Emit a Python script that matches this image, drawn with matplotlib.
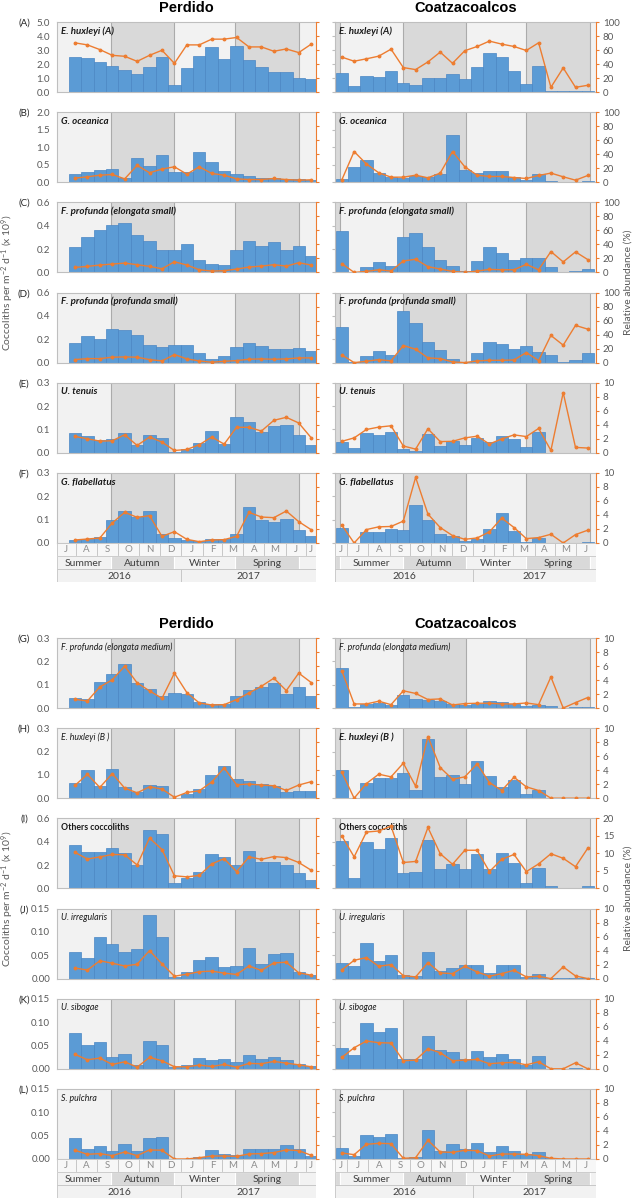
import datetime as dt
import matplotlib
matplotlib.use("Agg")
import matplotlib.pyplot as plt
import matplotlib.dates as mdates
from matplotlib.patches import Rectangle

plt.rcParams['font.family'] = ['Lato', 'DejaVu Sans']
plt.rcParams['mathtext.default'] = 'regular'

# sediment trap cups, one every 18 days
perdido_first_cup = dt.datetime(2016, 7, 22)
coatza_first_cup = dt.datetime(2016, 6, 14)
cup_days = 18

perdido_xlim = (dt.datetime(2016, 7, 5), dt.datetime(2017, 7, 15))
coatza_xlim = (dt.datetime(2016, 6, 13), dt.datetime(2017, 6, 30))

season_edges = [dt.datetime(2016, 3, 20), dt.datetime(2016, 6, 21), dt.datetime(2016, 9, 21),
                dt.datetime(2016, 12, 21), dt.datetime(2017, 3, 20), dt.datetime(2017, 6, 21),
                dt.datetime(2017, 9, 22)]
season_names = ['Spring', 'Summer', 'Autumn', 'Winter', 'Spring', 'Summer']
season_dark = [True, False, True, False, True, False]
years = [2016, 2017]

# ---- fluxes (x10^9 coccoliths m-2 d-1) and relative abundance (%)
ehux_a_perdido_flux = [2.52, 2.45, 2.16, 1.88, 1.59, 1.30, 1.80, 2.50, 0.53, 1.73, 2.55, 3.20, 2.38, 3.29, 2.31, 1.78, 1.44, 1.44, 1.00, 0.96]
ehux_a_perdido_rel = [70.2, 67.3, 60.6, 52.4, 51.0, 43.8, 52.4, 59.6, 40.9, 67.3, 67.3, 75.5, 75.5, 77.9, 64.4, 64.4, 58.2, 61.5, 56.3, 68.3]
ehux_a_coatza_flux = [1.35, 0.45, 1.17, 1.05, 1.48, 0.65, 0.53, 1.03, 1.03, 1.31, 0.95, 1.77, 2.77, 2.53, 1.48, 0.60, 1.86, 0.04, 0.04, 0.04, 0.04]
ehux_a_coatza_rel = [49.8, 44.0, 47.4, 51.2, 61.2, 34.9, 32.0, 43.0, 57.0, 41.0, 59.0, 65.0, 72.7, 68.4, 65.0, 59.3, 70.3, 6.7, 34.4, 6.7, 9.6]

goce_perdido_flux = [0.22, 0.28, 0.34, 0.38, 0.12, 0.69, 0.46, 0.79, 0.29, 0.30, 0.85, 0.57, 0.33, 0.22, 0.17, 0.12, 0.13, 0.10, 0.08, 0.06]
goce_perdido_rel = [5.8, 7.7, 10.0, 11.0, 4.8, 24.0, 13.5, 18.8, 22.0, 11.5, 22.0, 12.5, 10.0, 4.8, 3.8, 3.8, 5.3, 3.8, 2.9, 3.4]
goce_coatza_flux = [0.096, 0.42, 0.62, 0.27, 0.154, 0.116, 0.174, 0.154, 0.22, 1.34, 0.346, 0.25, 0.31, 0.31, 0.154, 0.058, 0.24, 0.02, 0.01, 0.01, 0.02]
goce_coatza_rel = [3.4, 43.8, 26.0, 13.5, 7.2, 7.2, 10.0, 6.3, 13.0, 43.8, 22.0, 10.0, 8.2, 8.2, 6.7, 5.3, 9.6, 13.0, 7.7, 2.9, 9.6]

fpes_perdido_flux = [0.22, 0.30, 0.36, 0.41, 0.42, 0.32, 0.27, 0.19, 0.19, 0.24, 0.11, 0.07, 0.06, 0.19, 0.27, 0.23, 0.26, 0.19, 0.23, 0.14]
fpes_perdido_rel = [7.1, 8.6, 10.5, 11.9, 13.3, 11.0, 8.6, 5.2, 15.2, 10.5, 3.8, 1.9, 2.4, 4.8, 7.6, 9.0, 11.0, 9.0, 13.8, 10.5]
fpes_coatza_flux = [0.354, 0.003, 0.043, 0.090, 0.052, 0.300, 0.340, 0.216, 0.104, 0.054, 0.012, 0.096, 0.214, 0.168, 0.107, 0.126, 0.124, 0.046, 0.003, 0.012, 0.029]
fpes_coatza_rel = [12.5, 0.0, 1.4, 3.8, 1.9, 16.3, 18.8, 8.2, 4.8, 1.4, 0.0, 1.9, 4.3, 3.8, 3.8, 11.5, 3.8, 29.8, 15.0, 29.3, 18.3]

fpps_perdido_flux = [0.164, 0.23, 0.204, 0.287, 0.276, 0.236, 0.155, 0.13, 0.152, 0.147, 0.08, 0.029, 0.057, 0.13, 0.17, 0.144, 0.12, 0.12, 0.126, 0.098]
fpps_perdido_rel = [4.3, 5.7, 5.7, 7.7, 8.1, 7.7, 4.3, 2.4, 11.5, 5.3, 2.4, 0.5, 1.9, 2.9, 4.8, 5.3, 4.8, 5.3, 6.7, 6.7]
fpps_coatza_flux = [0.306, 0.006, 0.054, 0.100, 0.063, 0.444, 0.339, 0.178, 0.109, 0.034, 0.006, 0.080, 0.178, 0.161, 0.118, 0.144, 0.092, 0.066, 0.006, 0.026, 0.086]
fpps_coatza_rel = [11.0, 0.0, 1.9, 4.3, 2.4, 24.4, 19.1, 6.7, 5.7, 1.0, 0.0, 2.4, 3.3, 3.3, 3.8, 14.4, 2.9, 38.8, 24.9, 53.1, 47.8]

uten_perdido_flux = [0.085, 0.073, 0.057, 0.060, 0.083, 0.032, 0.078, 0.065, 0.003, 0.016, 0.043, 0.093, 0.039, 0.152, 0.130, 0.089, 0.113, 0.118, 0.077, 0.032]
uten_perdido_rel = [2.34, 2.0, 1.67, 1.72, 2.58, 1.05, 2.25, 1.53, 0.33, 0.48, 1.15, 2.25, 1.24, 3.64, 3.64, 3.11, 4.64, 5.07, 4.26, 2.15]
uten_coatza_flux = [0.045, 0.020, 0.083, 0.075, 0.091, 0.016, 0.009, 0.080, 0.029, 0.049, 0.033, 0.065, 0.048, 0.073, 0.058, 0.023, 0.091, 0.001, 0.001, 0.001, 0.001]
uten_coatza_rel = [1.64, 2.13, 3.33, 3.67, 3.86, 0.97, 0.53, 3.43, 1.60, 1.64, 2.13, 2.37, 1.26, 1.98, 2.56, 2.32, 3.48, 0.34, 8.6, 0.77, 0.68]

gfla_perdido_flux = [0.014, 0.019, 0.024, 0.100, 0.139, 0.111, 0.137, 0.039, 0.021, 0.013, 0.007, 0.017, 0.017, 0.039, 0.154, 0.100, 0.089, 0.104, 0.056, 0.030]
gfla_perdido_rel = [0.43, 0.57, 0.71, 2.86, 4.38, 3.67, 3.90, 0.95, 1.62, 0.52, 0.19, 0.43, 0.48, 0.95, 4.38, 3.71, 3.62, 4.57, 3.05, 1.90]
gfla_coatza_flux = [0.066, 0.0015, 0.048, 0.048, 0.058, 0.055, 0.163, 0.098, 0.038, 0.029, 0.009, 0.017, 0.058, 0.130, 0.052, 0.004, 0.020, 0.0015, 0.0, 0.0015, 0.003]
gfla_coatza_rel = [2.55, 0.0, 1.92, 2.31, 2.36, 3.13, 9.38, 4.13, 2.21, 1.06, 0.53, 0.72, 1.59, 3.56, 2.21, 0.63, 0.77, 1.25, 0.0, 1.20, 1.83]

fpem_perdido_flux = [0.044, 0.037, 0.112, 0.145, 0.188, 0.106, 0.083, 0.053, 0.066, 0.059, 0.026, 0.016, 0.017, 0.053, 0.079, 0.090, 0.106, 0.059, 0.089, 0.053]
fpem_perdido_rel = [1.24, 1.00, 3.01, 4.02, 5.98, 3.59, 2.44, 1.39, 4.98, 2.20, 0.72, 0.43, 0.48, 1.20, 2.15, 3.11, 4.26, 2.49, 4.98, 3.64]
fpem_coatza_flux = [0.1725, 0.0057, 0.0174, 0.023, 0.0144, 0.0537, 0.0405, 0.0348, 0.029, 0.016, 0.0117, 0.019, 0.032, 0.0246, 0.019, 0.0087, 0.013, 0.0087, 0.0, 0.003, 0.003]
fpem_coatza_rel = [5.31, 0.58, 0.58, 0.97, 0.48, 2.46, 2.08, 1.21, 1.30, 0.43, 0.63, 0.68, 0.68, 0.58, 0.58, 0.72, 0.48, 4.44, 0.0, 0.77, 1.50]

ehux_b_perdido_flux = [0.066, 0.123, 0.053, 0.124, 0.046, 0.026, 0.056, 0.052, 0.003, 0.020, 0.040, 0.101, 0.136, 0.082, 0.075, 0.061, 0.053, 0.027, 0.033, 0.032]
ehux_b_perdido_rel = [1.83, 3.41, 1.54, 3.51, 1.44, 0.77, 1.63, 1.30, 0.14, 0.82, 1.06, 2.31, 4.33, 1.92, 2.02, 1.88, 1.78, 1.11, 1.88, 2.36]
ehux_b_coatza_flux = [0.123, 0.003, 0.066, 0.086, 0.0885, 0.107, 0.037, 0.253, 0.0915, 0.099, 0.060, 0.160, 0.096, 0.050, 0.080, 0.020, 0.034, 0.0, 0.0, 0.0, 0.0]
ehux_b_coatza_rel = [3.71, 0.0, 2.10, 3.43, 3.05, 5.00, 1.71, 8.81, 4.38, 2.71, 3.05, 4.90, 2.24, 1.10, 3.00, 1.62, 1.10, 0.0, 0.0, 0.0, 0.0]

others_perdido_flux = [0.374, 0.310, 0.316, 0.345, 0.300, 0.200, 0.500, 0.463, 0.049, 0.086, 0.141, 0.296, 0.267, 0.200, 0.322, 0.224, 0.224, 0.204, 0.129, 0.072]
others_perdido_rel = [10.3, 8.4, 9.0, 9.7, 9.6, 6.7, 14.4, 11.1, 3.6, 3.3, 3.7, 7.0, 8.5, 4.8, 9.0, 8.3, 9.1, 8.8, 7.4, 5.2]
others_coatza_flux = [0.405, 0.0915, 0.399, 0.339, 0.435, 0.135, 0.137, 0.414, 0.168, 0.2115, 0.168, 0.291, 0.168, 0.306, 0.219, 0.048, 0.177, 0.017, 0.003, 0.003, 0.023]
others_coatza_rel = [15.0, 9.0, 16.1, 16.4, 17.8, 7.4, 7.7, 17.4, 9.9, 6.9, 10.9, 10.9, 4.8, 8.3, 9.7, 4.8, 7.0, 9.9, 8.6, 6.2, 11.5]

uirr_perdido_flux = [0.056, 0.045, 0.090, 0.075, 0.057, 0.063, 0.137, 0.089, 0.004, 0.015, 0.040, 0.046, 0.024, 0.026, 0.065, 0.031, 0.052, 0.055, 0.015, 0.007]
uirr_perdido_rel = [1.51, 1.22, 2.54, 2.20, 1.80, 2.05, 4.00, 2.10, 0.34, 0.63, 0.98, 1.07, 0.78, 0.59, 1.80, 1.17, 2.24, 2.34, 0.83, 0.49]
uirr_coatza_flux = [0.033, 0.027, 0.077, 0.037, 0.050, 0.008, 0.005, 0.056, 0.0165, 0.0236, 0.0285, 0.0285, 0.012, 0.029, 0.0285, 0.0036, 0.010, 0.0008, 0.0015, 0.0015, 0.0015]
uirr_coatza_rel = [1.24, 2.62, 3.00, 1.76, 2.00, 0.43, 0.24, 2.29, 0.81, 0.71, 1.76, 0.95, 0.33, 0.71, 1.19, 0.24, 0.33, 0.0, 1.67, 0.38, 0.0]

usib_perdido_flux = [0.076, 0.050, 0.057, 0.026, 0.032, 0.008, 0.060, 0.051, 0.004, 0.009, 0.024, 0.018, 0.022, 0.014, 0.030, 0.021, 0.026, 0.019, 0.011, 0.006]
usib_perdido_rel = [2.06, 1.29, 1.53, 0.62, 1.00, 0.24, 1.63, 1.15, 0.29, 0.29, 0.53, 0.33, 0.62, 0.24, 0.77, 0.72, 1.05, 0.81, 0.57, 0.29]
usib_coatza_flux = [0.045, 0.030, 0.099, 0.078, 0.0885, 0.020, 0.022, 0.0705, 0.0395, 0.0366, 0.020, 0.038, 0.0245, 0.032, 0.0216, 0.0072, 0.0273, 0.0, 0.0, 0.0015, 0.0]
usib_coatza_rel = [1.63, 3.01, 3.97, 3.73, 3.68, 1.15, 1.24, 2.87, 2.30, 1.15, 1.24, 1.34, 0.72, 0.86, 0.91, 0.57, 1.00, 0.0, 0.0, 0.86, 0.0]

spul_perdido_flux = [0.045, 0.022, 0.027, 0.017, 0.032, 0.017, 0.045, 0.048, 0.001, 0.001, 0.004, 0.019, 0.011, 0.009, 0.022, 0.021, 0.021, 0.030, 0.021, 0.007]
spul_perdido_rel = [1.25, 0.67, 0.77, 0.48, 1.00, 0.48, 1.30, 1.25, 0.0, 0.0, 0.19, 0.43, 0.43, 0.38, 0.72, 0.77, 0.91, 1.30, 1.20, 0.53]
spul_coatza_flux = [0.0243, 0.0057, 0.0522, 0.0479, 0.0536, 0.0021, 0.0044, 0.0629, 0.0165, 0.0329, 0.0207, 0.0344, 0.0158, 0.0285, 0.0165, 0.0100, 0.0143, 0.0029, 0.0, 0.0, 0.0]
spul_coatza_rel = [0.86, 0.62, 2.10, 2.24, 2.19, 0.10, 0.19, 2.67, 1.00, 0.95, 1.24, 1.19, 0.43, 0.71, 0.71, 0.67, 0.48, 0.10, 0.0, 0.0, 0.0]

# letter, name, perdido flux/rel, coatza flux/rel, left max, left step, decimals, right max, right step, name style
panels = [
    ('(A)', 'E. huxleyi (A)', ehux_a_perdido_flux, ehux_a_perdido_rel, ehux_a_coatza_flux, ehux_a_coatza_rel, 5.0, 1.0, 1, 100, 20, 'bi'),
    ('(B)', 'G. oceanica', goce_perdido_flux, goce_perdido_rel, goce_coatza_flux, goce_coatza_rel, 2.0, 0.5, 1, 100, 20, 'bi'),
    ('(C)', 'F. profunda (elongata small)', fpes_perdido_flux, fpes_perdido_rel, fpes_coatza_flux, fpes_coatza_rel, 0.6, 0.2, 1, 100, 20, 'bi'),
    ('(D)', 'F. profunda (profunda small)', fpps_perdido_flux, fpps_perdido_rel, fpps_coatza_flux, fpps_coatza_rel, 0.6, 0.2, 1, 100, 20, 'bi'),
    ('(E)', 'U. tenuis', uten_perdido_flux, uten_perdido_rel, uten_coatza_flux, uten_coatza_rel, 0.3, 0.1, 1, 10, 2, 'bi'),
    ('(F)', 'G. flabellatus', gfla_perdido_flux, gfla_perdido_rel, gfla_coatza_flux, gfla_coatza_rel, 0.3, 0.1, 1, 10, 2, 'bi'),
    ('(G)', 'F. profunda (elongata medium)', fpem_perdido_flux, fpem_perdido_rel, fpem_coatza_flux, fpem_coatza_rel, 0.3, 0.1, 1, 10, 2, 'i'),
    ('(H)', 'E. huxleyi (B )', ehux_b_perdido_flux, ehux_b_perdido_rel, ehux_b_coatza_flux, ehux_b_coatza_rel, 0.3, 0.1, 1, 10, 2, 'i/bi'),
    ('(I)', 'Others coccoliths', others_perdido_flux, others_perdido_rel, others_coatza_flux, others_coatza_rel, 0.6, 0.2, 1, 20, 5, 'b'),
    ('(J)', 'U. irregularis', uirr_perdido_flux, uirr_perdido_rel, uirr_coatza_flux, uirr_coatza_rel, 0.15, 0.05, 2, 10, 2, 'i'),
    ('(K)', 'U. sibogae', usib_perdido_flux, usib_perdido_rel, usib_coatza_flux, usib_coatza_rel, 0.15, 0.05, 2, 10, 2, 'i'),
    ('(L)', 'S. pulchra', spul_perdido_flux, spul_perdido_rel, spul_coatza_flux, spul_coatza_rel, 0.15, 0.05, 2, 10, 2, 'i'),
]
# panel (H) on the left axis carries a "1.0" where 0.1 belongs in the original
h_labels = ['0.0', '1.0', '0.2', '0.3']

BLUE = '#5B9BD5'
ORANGE = '#ED7D31'
LIGHT = '#f2f2f2'
DARK = '#d9d9d9'
GREY_TXT = '#595959'

W, H = 633, 1199
fig = plt.figure(figsize=(W / 100, H / 100), dpi=100)


def px_axes(x0, x1, top, h):
    return fig.add_axes([x0 / W, 1 - (top + h) / H, (x1 - x0) / W, h / H])


def d2n(d):
    return mdates.date2num(d)


def shade_seasons(ax, xlim):
    for i in range(len(season_names)):
        a, b = max(season_edges[i], xlim[0]), min(season_edges[i + 1], xlim[1])
        if a >= b:
            continue
        ax.axvspan(d2n(a), d2n(b), color=DARK if season_dark[i] else LIGHT, zorder=0, lw=0)
    for e in season_edges:
        if xlim[0] < e < xlim[1]:
            ax.axvline(d2n(e), color='#ababab', lw=0.8, zorder=0.5)


def draw_panel(ax, first_cup, xlim, flux, rel, spec, show_left, show_right, name_style):
    letter, name = spec[0], spec[1]
    lmax, lstep, dec, rmax, rstep = spec[6:11]
    n = len(flux)
    starts = [d2n(first_cup + dt.timedelta(days=cup_days * i)) for i in range(n)]
    mids = [s + cup_days / 2 for s in starts]
    shade_seasons(ax, xlim)
    ax.bar(starts, flux, width=cup_days, align='edge', color=BLUE, edgecolor='#4a86c4', lw=0.5, zorder=2)
    ax.set_xlim(d2n(xlim[0]), d2n(xlim[1]))
    ax.set_ylim(0, lmax)
    ticks = [lstep * k for k in range(int(round(lmax / lstep)) + 1)]
    ax.set_yticks(ticks)
    if show_left:
        if letter == '(H)':
            ax.set_yticklabels(h_labels)
        else:
            ax.set_yticklabels([f'{t:.{dec}f}' for t in ticks])
        ax.tick_params(axis='y', length=0, pad=5, labelsize=7, labelcolor=GREY_TXT)
    else:
        ax.set_yticklabels([])
        ax.tick_params(axis='y', length=2, color='#bfbfbf', direction='out')
    ax.set_xticks([])
    for s in ['left', 'top', 'bottom']:
        ax.spines[s].set_color('#bfbfbf')
        ax.spines[s].set_linewidth(0.8)
    ax.spines['right'].set_visible(False)

    ax2 = ax.twinx()
    ax2.plot(mids, rel, color=ORANGE, lw=1.0, marker='o', ms=1.8, zorder=3)
    ax2.set_ylim(0, rmax)
    ax2.set_yticks(range(0, rmax + 1, rstep))
    ax2.spines['right'].set_color(ORANGE)
    ax2.spines['right'].set_linewidth(0.8)
    for s in ['left', 'top', 'bottom']:
        ax2.spines[s].set_visible(False)
    if show_right:
        ax2.tick_params(axis='y', length=2, color=ORANGE, pad=3, labelsize=7, labelcolor=GREY_TXT)
    else:
        ax2.set_yticklabels([])
        ax2.tick_params(axis='y', length=2, color=ORANGE)

    weight = 'bold' if 'b' in name_style else 'normal'
    style = 'italic' if 'i' in name_style else 'normal'
    size = 7 if name_style in ('bi',) else 6.3
    ax.text(0.015, 0.87, name, transform=ax.transAxes, fontsize=size, fontweight=weight,
            fontstyle=style, color='#1a1a1a', va='center', ha='left', zorder=5)


def draw_table(ax, xlim):
    x0, x1 = d2n(xlim[0]), d2n(xlim[1])
    ax.set_xlim(x0, x1)
    ax.set_ylim(0, 3)
    ax.axis('off')
    edge = '#c4c4c4'
    # month row
    m = dt.datetime(xlim[0].year, xlim[0].month, 1)
    while m < xlim[1]:
        nxt = dt.datetime(m.year + (m.month == 12), m.month % 12 + 1, 1)
        a, b = max(d2n(m), x0), min(d2n(nxt), x1)
        ax.add_patch(Rectangle((a, 2), b - a, 1, facecolor='#f7f7f7', edgecolor=edge, lw=0.6))
        ax.text((a + b) / 2, 2.5, 'JFMAMJJASOND'[m.month - 1], ha='center', va='center',
                fontsize=7, color='#8c8c8c')
        m = nxt
    # season row
    for i in range(len(season_names)):
        a, b = max(d2n(season_edges[i]), x0), min(d2n(season_edges[i + 1]), x1)
        if a >= b:
            continue
        ax.add_patch(Rectangle((a, 1), b - a, 1, facecolor=DARK if season_dark[i] else LIGHT,
                               edgecolor='white', lw=0.8))
        if b - a > 60:
            ax.text((a + b) / 2, 1.45, season_names[i], ha='center', va='center',
                    fontsize=7.5, color='#404040')
    ax.add_patch(Rectangle((x0, 1), x1 - x0, 1, facecolor='none', edgecolor=edge, lw=0.6))
    # year row
    for y in years:
        a = max(d2n(dt.datetime(y, 1, 1)), x0)
        b = min(d2n(dt.datetime(y + 1, 1, 1)), x1)
        ax.add_patch(Rectangle((a, 0), b - a, 1, facecolor=LIGHT, edgecolor=edge, lw=0.6))
        ax.text((a + b) / 2, 0.45, str(y), ha='center', va='center', fontsize=7.5, color='#404040')


LEFT_X = (57, 316)
RIGHT_X = (335, 596)
PANEL_H = 70
STEP = 90.2
block_tops = [22, 638]

for blk, top0 in enumerate(block_tops):
    for j in range(6):
        spec = panels[blk * 6 + j]
        top = top0 + j * STEP
        style = spec[11]
        p_style = style.split('/')[0]
        c_style = style.split('/')[-1]
        axp = px_axes(LEFT_X[0], LEFT_X[1], top, PANEL_H)
        draw_panel(axp, perdido_first_cup, perdido_xlim, spec[2], spec[3], spec, True, False, p_style)
        axc = px_axes(RIGHT_X[0], RIGHT_X[1], top, PANEL_H)
        draw_panel(axc, coatza_first_cup, coatza_xlim, spec[4], spec[5], spec, False, True, c_style)
        fig.text(24 / W, 1 - (top + 1) / H, spec[0], ha='center', va='center', fontsize=7, color='#262626')
    tbl_top = top0 + 5 * STEP + PANEL_H
    draw_table(px_axes(LEFT_X[0], LEFT_X[1], tbl_top, 39), perdido_xlim)
    draw_table(px_axes(RIGHT_X[0], RIGHT_X[1], tbl_top, 39), coatza_xlim)

    title_y = 1 - (top0 - 7) / H
    fig.text((LEFT_X[0] + LEFT_X[1]) / 2 / W, title_y, 'Perdido', ha='center', va='bottom',
             fontsize=10.5, fontweight='bold', family='Liberation Sans')
    fig.text((RIGHT_X[0] + RIGHT_X[1]) / 2 / W, title_y, 'Coatzacoalcos', ha='center', va='bottom',
             fontsize=10.5, fontweight='bold', family='Liberation Sans')

    mid = 1 - (top0 + (5 * STEP + PANEL_H) / 2) / H
    fig.text(8 / W, mid, 'Coccoliths per m$^{-2}$ d$^{-1}$ (x 10$^{9}$)', rotation=90,
             ha='center', va='center', fontsize=7.5, color=GREY_TXT)
    fig.text(628 / W, mid, 'Relative abundance (%)', rotation=90,
             ha='center', va='center', fontsize=7.5, color=GREY_TXT)

fig.savefig('out.png', dpi=100)
